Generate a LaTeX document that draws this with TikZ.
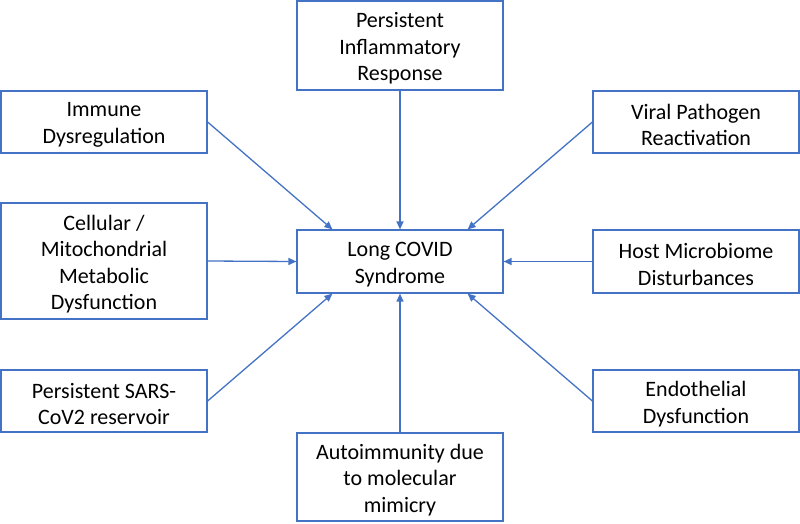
\documentclass[tikz,border=0pt]{standalone}
\usepackage{fontspec}
\setmainfont{Carlito}
\usetikzlibrary{arrows.meta,calc}
\definecolor{obl}{HTML}{4472C4}
\begin{document}
\begin{tikzpicture}[x=1pt,y=-1pt,
  box/.style={draw=obl,line width=1.2pt,fill=white,minimum width=206pt,inner sep=0pt},
  lab/.style={align=center,inner sep=0pt,yshift=-3pt,font=\fontsize{22}{26.5}\selectfont},
  conn/.style={draw=obl,line width=1.3pt,-{Triangle[length=8pt,width=7pt]}}]
\useasboundingbox (0,0) rectangle (800,523);
\node[box,minimum height=89pt,label={[lab]center:{Persistent\\Inflammatory\\Response}}] (top) at (400,45.5) {};
\node[box,minimum height=62pt,label={[lab]center:{Immune\\Dysregulation}}] (imm) at (104,122) {};
\node[box,minimum height=62pt,label={[lab]center:{Viral Pathogen\\Reactivation}}] (vir) at (696,122) {};
\node[box,minimum height=116pt,label={[lab]center:{Cellular /\\Mitochondrial\\Metabolic\\Dysfunction}}] (cel) at (104,261) {};
\node[box,minimum height=63pt,label={[lab]center:{Long COVID\\Syndrome}}] (lc) at (400,261.5) {};
\node[box,minimum height=63pt,label={[lab]center:{Host Microbiome\\Disturbances}}] (host) at (696,261.5) {};
\node[box,minimum height=62pt,label={[lab]center:{Persistent SARS-\\CoV2 reservoir}}] (sars) at (104,401) {};
\node[box,minimum height=62pt,label={[lab]center:{Endothelial\\Dysfunction}}] (endo) at (696,401) {};
\node[box,minimum height=88pt,label={[lab]center:{Autoimmunity due\\to molecular\\mimicry}}] (auto) at (400,477) {};
\coordinate (ltl) at ($(lc.north west)+(36,0)$);
\coordinate (ltr) at ($(lc.north east)+(-36,0)$);
\coordinate (lbl) at ($(lc.south west)+(36,0)$);
\coordinate (lbr) at ($(lc.south east)+(-36,0)$);
\draw[conn] (top.south) -- (lc.north);
\draw[conn] (auto.north) -- (lc.south);
\draw[conn] (cel.east) -- (lc.west);
\draw[conn] (host.west) -- (lc.east);
\draw[conn] (imm.east) -- (ltl);
\draw[conn] (vir.west) -- (ltr);
\draw[conn] (sars.east) -- (lbl);
\draw[conn] (endo.west) -- (lbr);
\end{tikzpicture}
\end{document}
